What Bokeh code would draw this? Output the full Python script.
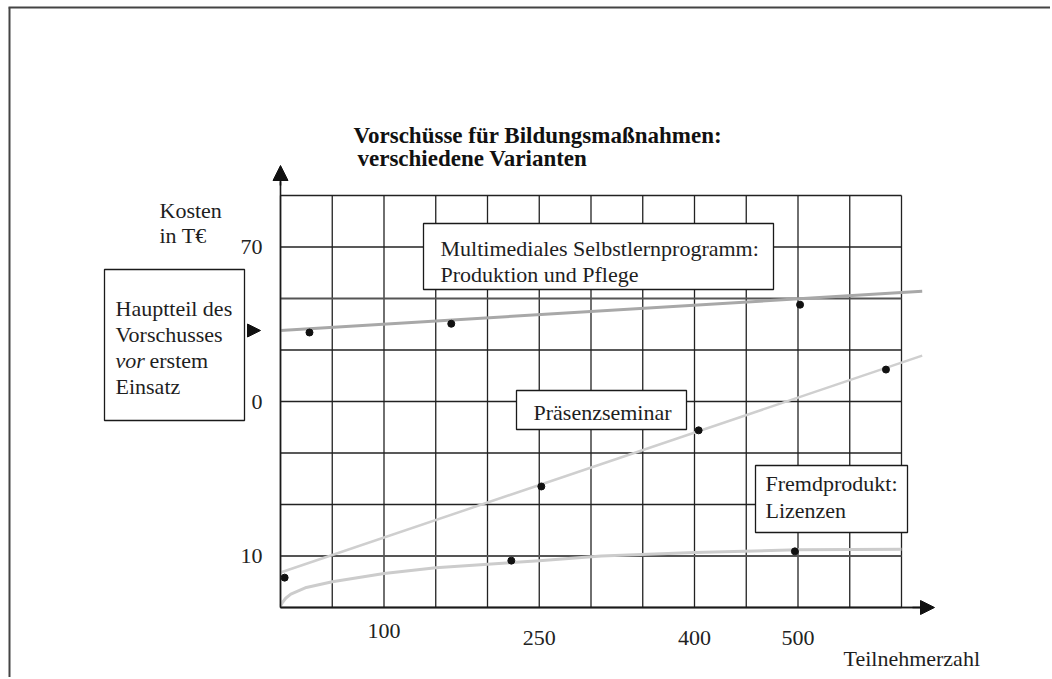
from bokeh.plotting import figure
from bokeh.models import (Range1d, LinearAxis, FixedTicker, Arrow, NormalHead)
from bokeh.core.properties import value
from bokeh.embed import file_html
from bokeh.resources import INLINE

# ---------------- data ----------------
x_ticks = [100, 250, 400, 500]
y_ticks = [10, 40, 70]
y_tick_labels = ["10", "0", "70"]

# Multimediales Selbstlernprogramm
mm_line_x = [0, 620]
mm_line_y = [53.8, 61.4]
mm_dots_x = [28, 165, 502]
mm_dots_y = [53.4, 55.1, 58.8]

# Präsenzseminar
pr_line_x = [0, 620]
pr_line_y = [6.8, 48.9]
pr_dots_x = [4, 252, 404, 585]
pr_dots_y = [5.8, 23.5, 34.4, 46.2]

# Fremdprodukt: Lizenzen
fr_line_x = [0, 2, 5, 10, 25, 50, 100, 150, 250, 310, 400, 500, 600]
fr_line_y = [0.3, 1.0, 1.8, 2.6, 3.9, 5.0, 6.6, 7.7, 9.1, 10.0, 10.7, 11.2, 11.3]
fr_dots_x = [223, 497]
fr_dots_y = [9.1, 10.9]

# ---------------- layout helpers ----------------
W, H = 1050, 677
OFF = 0            # canvas origin in the page
SX = 621 / 600.0   # px per participant
SY = 412 / 80.0    # px per unit of cost

def dx(px):  # page x -> data x
    return (px - 280) / SX

def dy(py):  # page y -> data y
    return (607 - py) / SY

p = figure(width=W, height=H, output_backend="svg", toolbar_location=None,
           x_range=Range1d(dx(OFF), dx(OFF + W)), y_range=Range1d(dy(OFF + H), dy(OFF)),
           x_axis_type=None, y_axis_type=None, min_border=0,
           outline_line_color=None, background_fill_color="white",
           border_fill_color="white")
p.grid.visible = False

FONT = value("Liberation Serif")

# page border (top and left)
p.segment(x0=[dx(9), dx(8)], y0=[dy(7), dy(7)], x1=[dx(9), dx(1060)], y1=[dy(700), dy(7)],
          line_color="#444444", line_width=2)

# grid
gx = list(range(0, 601, 50))
gy = list(range(0, 81, 10))
p.segment(x0=gx, y0=[0] * len(gx), x1=gx, y1=[80] * len(gx), line_color="#222222", line_width=1.3)
thin_y = [v for v in gy if v not in (10, 60)]
p.segment(x0=[0] * len(thin_y), y0=thin_y, x1=[600] * len(thin_y), y1=thin_y,
          line_color="#222222", line_width=1.3)
p.segment(x0=[0, 0], y0=[10, 60], x1=[600, 600], y1=[10, 60], line_color="#555555", line_width=2.2)

# curves
p.line(mm_line_x, mm_line_y, line_color="#a8a8a8", line_width=3)
p.line(pr_line_x, pr_line_y, line_color="#cfcfcf", line_width=2.5)
p.line(fr_line_x, fr_line_y, line_color="#cccccc", line_width=3, line_join="round")

# dots
p.scatter(mm_dots_x + pr_dots_x + fr_dots_x, mm_dots_y + pr_dots_y + fr_dots_y,
          size=7, color="#111111")

# axes at fixed location
yax = LinearAxis(fixed_location=0, bounds=(0, dy(181)),
                 ticker=FixedTicker(ticks=y_ticks),
                 major_label_overrides={t: l for t, l in zip(y_ticks, y_tick_labels)})
xax1 = LinearAxis(fixed_location=0, bounds=(0, dx(920)),
                  ticker=FixedTicker(ticks=x_ticks[:1]))
xax2 = LinearAxis(fixed_location=0, bounds=(0, dx(920)),
                  ticker=FixedTicker(ticks=x_ticks[1:]))
for ax in (yax, xax1, xax2):
    ax.axis_line_color = "#1a1a1a"
    ax.axis_line_width = 1.6
    ax.major_tick_line_color = None
    ax.minor_tick_line_color = None
    ax.major_label_text_font = "Liberation Serif"
    ax.major_label_text_font_size = "22px"
    ax.major_label_text_color = "#222222"
yax.major_label_standoff = 12
xax1.major_label_standoff = 10
xax2.major_label_standoff = 17
p.add_layout(yax, "left")
p.add_layout(xax1, "below")
p.add_layout(xax2, "below")

# arrow heads
p.add_layout(Arrow(end=NormalHead(size=15, fill_color="#111111", line_color="#111111"),
                   x_start=0, y_start=dy(185), x_end=0, y_end=dy(165),
                   line_color="#111111", line_width=1.6))
p.add_layout(Arrow(end=NormalHead(size=14, fill_color="#111111", line_color="#111111"),
                   x_start=dx(912), y_start=0, x_end=dx(934), y_end=0,
                   line_color="#111111", line_width=1.6))
p.add_layout(Arrow(end=NormalHead(size=13, fill_color="#111111", line_color="#111111"),
                   x_start=dx(245), y_start=dy(330), x_end=dx(260), y_end=dy(330),
                   line_alpha=0))

# boxes
boxes = [(423, 223, 773, 289), (516, 390, 686, 429), (755, 465, 907, 532), (104, 269, 244, 420)]
p.quad(left=[dx(b[0]) for b in boxes], right=[dx(b[2]) for b in boxes],
       top=[dy(b[1]) for b in boxes], bottom=[dy(b[3]) for b in boxes],
       fill_color="white", line_color="#1a1a1a", line_width=1.3)

TEXT_SHIFT = 7  # rendered baseline sits lower than requested

def txt(px, py, s, style="normal", size="22px", color="#1e1e1e"):
    p.text(x=[dx(px)], y=[dy(py - TEXT_SHIFT)], text=[s], text_font=FONT, text_font_size=size,
           text_font_style=style, text_color=color, text_baseline="alphabetic",
           text_align="left")

# title
txt(353, 142, "Vorschüsse für Bildungsmaßnahmen:", style="bold", size="23px", color="#111111")
txt(357, 165, "verschiedene Varianten", style="bold", size="23px", color="#111111")

# axis titles
txt(159, 217, "Kosten")
txt(159, 242, "in T€")
txt(843, 665, "Teilnehmerzahl")

# box texts
txt(440, 255, "Multimediales Selbstlernprogramm:")
txt(440, 281, "Produktion und Pflege")
txt(533, 419, "Präsenzseminar")
txt(765, 490, "Fremdprodukt:")
txt(765, 517, "Lizenzen")
txt(115, 315, "Hauptteil des")
txt(115, 341, "Vorschusses")
txt(115, 367, "vor", style="italic")
txt(149, 367, "erstem")
txt(115, 393, "Einsatz")

open("out.html", "w").write(file_html(p, INLINE))
